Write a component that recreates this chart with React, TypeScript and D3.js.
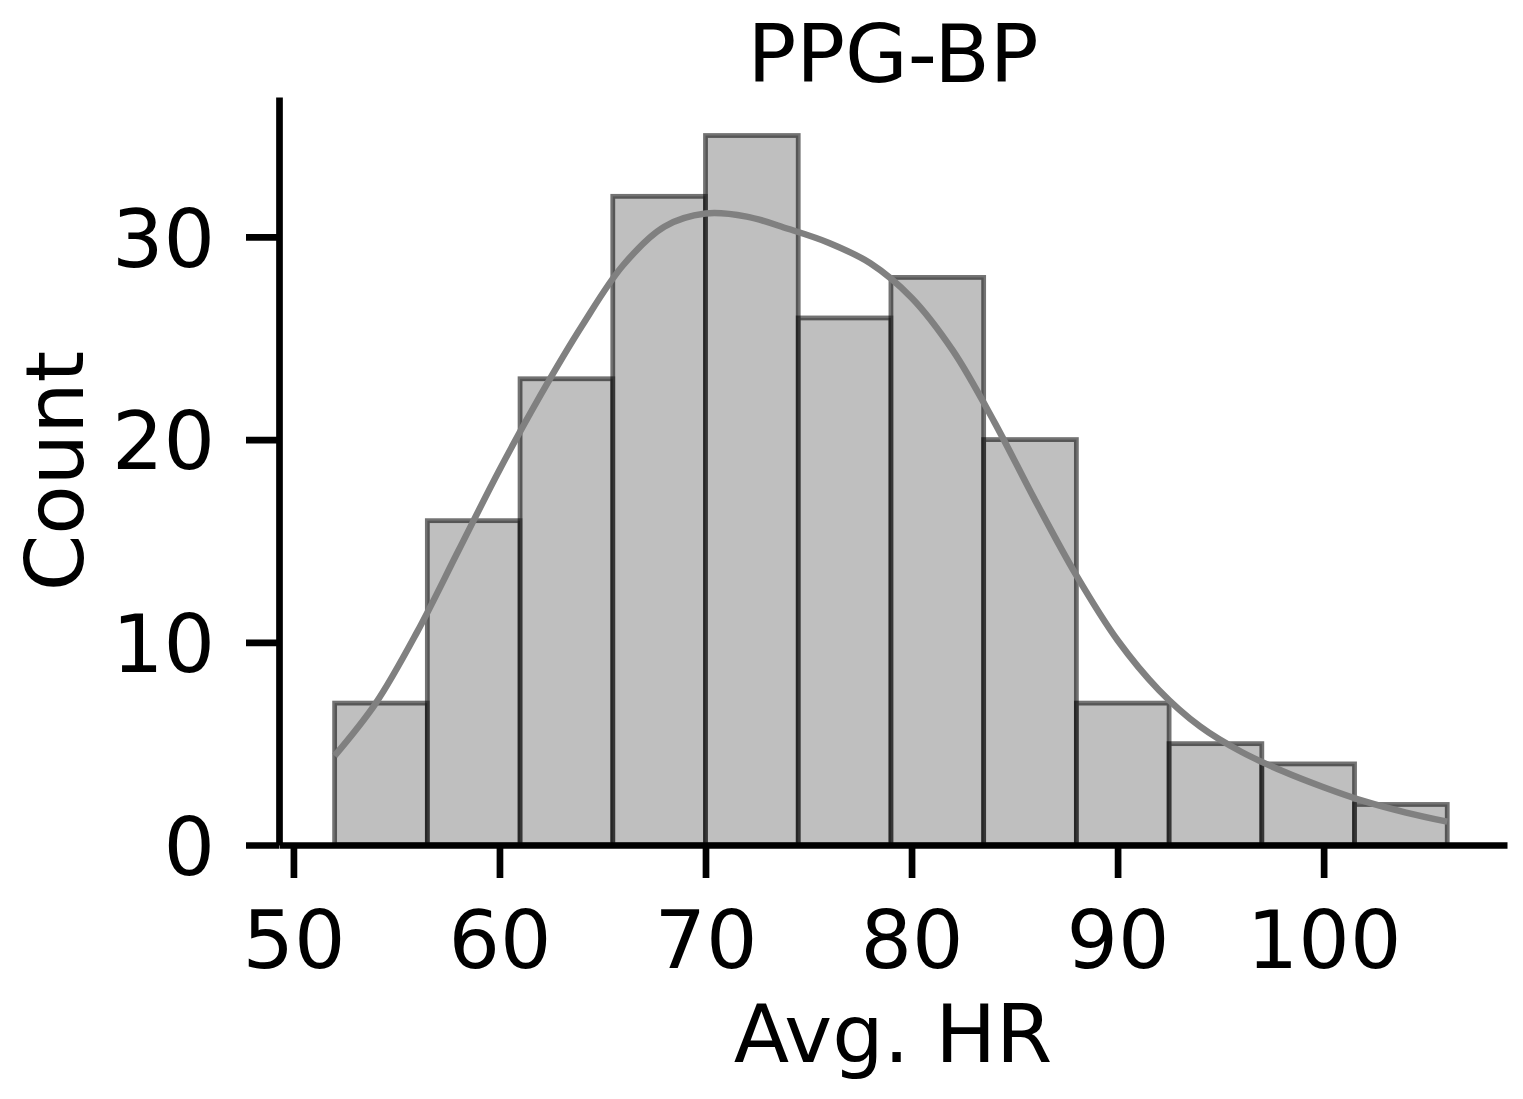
import React, { useRef, useEffect } from 'react';
import * as d3 from 'd3';

// histogram of average heart rate, 12 bins of 4.5 bpm starting at 52
const binEdges = [52, 56.5, 61, 65.5, 70, 74.5, 79, 83.5, 88, 92.5, 97, 101.5, 106];
const binCounts = [7, 16, 23, 32, 35, 26, 28, 20, 7, 5, 4, 2];

// kde curve (scaled to counts)
const kdeX = [52, 54, 56, 58, 60, 62, 64, 66, 68, 70, 72, 74, 76, 78, 80, 82, 84, 86, 88, 90, 92, 94, 96, 98, 100, 102, 104, 106];
const kdeY = [4.4, 7.0, 10.5, 14.5, 18.5, 22.2, 25.6, 28.6, 30.5, 31.15, 31.0, 30.4, 29.7, 28.7, 27.0, 24.4, 20.9, 17.0, 13.3, 10.1, 7.65, 5.85, 4.6, 3.65, 2.85, 2.15, 1.6, 1.15];

const xTicks = [50, 60, 70, 80, 90, 100];
const yTicks = [0, 10, 20, 30];

const title = 'PPG-BP';
const xLabel = 'Avg. HR';
const yLabel = 'Count';

const width = 1523;
const height = 1099;
const font = '"DejaVu Sans", sans-serif';
const fontSize = 81;

const App = () => {
  const ref = useRef<SVGSVGElement>(null);

  useEffect(() => {
    const left = 279, right = 1507, top = 97, bottom = 845;

    const x = d3.scaleLinear().domain([49.3, 108.9]).range([left, right]);
    const y = d3.scaleLinear().domain([0, 36.9]).range([bottom, top]);

    const svg = d3.select(ref.current);
    svg.selectAll('*').remove();

    svg.append('rect').attr('width', width).attr('height', height).attr('fill', '#fff');

    const bins = binCounts.map((c, i) => ({ x0: binEdges[i], x1: binEdges[i + 1], count: c }));

    svg.append('g')
      .selectAll('rect')
      .data(bins)
      .join('rect')
      .attr('x', d => x(d.x0))
      .attr('y', d => y(d.count))
      .attr('width', d => x(d.x1) - x(d.x0))
      .attr('height', d => y(0) - y(d.count))
      .attr('fill', '#808080')
      .attr('fill-opacity', 0.5)
      .attr('stroke', '#000')
      .attr('stroke-opacity', 0.55)
      .attr('stroke-width', 4.8);

    const line = d3.line<number>()
      .x((d, i) => x(kdeX[i]))
      .y(d => y(d))
      .curve(d3.curveCatmullRom.alpha(0.5));

    svg.append('path')
      .attr('d', line(kdeY))
      .attr('fill', 'none')
      .attr('stroke', '#808080')
      .attr('stroke-width', 6.5);

    // x axis
    const gx = svg.append('g')
      .attr('transform', `translate(0,${bottom})`)
      .call(d3.axisBottom(x).tickValues(xTicks).tickSize(33).tickSizeOuter(0).tickPadding(32).tickFormat(d3.format('d')));
    gx.select('.domain').attr('stroke', '#000').attr('stroke-width', 6.7);
    gx.selectAll('.tick line').attr('stroke', '#000').attr('stroke-width', 6.7);
    gx.selectAll('.tick text')
      .attr('font-family', font).attr('font-size', fontSize).attr('fill', '#000');

    // y axis
    const gy = svg.append('g')
      .attr('transform', `translate(${left},0)`)
      .call(d3.axisLeft(y).tickValues(yTicks).tickSize(33).tickSizeOuter(0).tickPadding(31).tickFormat(d3.format('d')));
    gy.select('.domain').attr('stroke', '#000').attr('stroke-width', 6.7);
    gy.selectAll('.tick line').attr('stroke', '#000').attr('stroke-width', 6.7);
    gy.selectAll('.tick text')
      .attr('font-family', font).attr('font-size', fontSize).attr('fill', '#000')
      .attr('dy', '0.36em');

    svg.append('text')
      .attr('x', (left + right) / 2).attr('y', 82)
      .attr('text-anchor', 'middle')
      .attr('font-family', font).attr('font-size', fontSize)
      .text(title);

    svg.append('text')
      .attr('x', (left + right) / 2).attr('y', 1062)
      .attr('text-anchor', 'middle')
      .attr('font-family', font).attr('font-size', fontSize)
      .text(xLabel);

    svg.append('text')
      .attr('transform', `translate(83,${(top + bottom) / 2}) rotate(-90)`)
      .attr('text-anchor', 'middle')
      .attr('font-family', font).attr('font-size', fontSize)
      .text(yLabel);
  }, []);

  return (
    <svg ref={ref} width={width} height={height}
      style={{ position: 'absolute', left: 0, top: 0, display: 'block' }} />
  );
};

export default App;
